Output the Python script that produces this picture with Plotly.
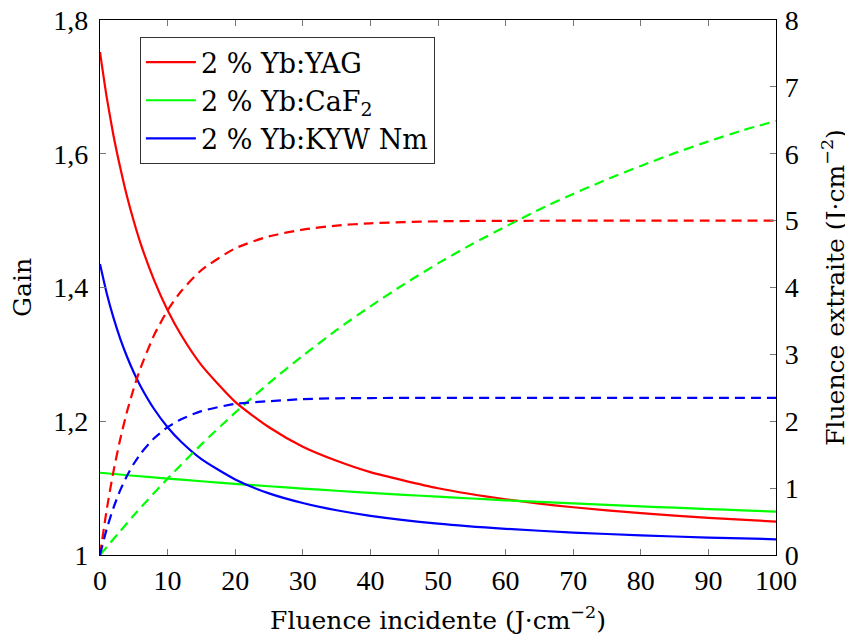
import plotly.graph_objects as go

# Fluence incidente (J/cm^2)
fluence = [0, 1, 2, 3, 4, 5, 6, 8, 10, 12, 15, 20, 25, 30, 35, 40, 50, 60, 70, 80, 90, 100]

# Gain (left axis)
gain_yag = [1.752, 1.684, 1.627, 1.579, 1.536, 1.499, 1.466, 1.411, 1.366, 1.329, 1.284, 1.229,
            1.191, 1.162, 1.141, 1.124, 1.0998, 1.0833, 1.0714, 1.0625, 1.0556, 1.050]
gain_kyw = [1.435, 1.391, 1.3545, 1.3233, 1.2964, 1.2729, 1.2524, 1.2183, 1.1911, 1.1693, 1.1434, 1.1130,
            1.0921, 1.0777, 1.0669, 1.0586, 1.0470, 1.0392, 1.0336, 1.0294, 1.0261, 1.0235]
# Extracted fluence (right axis)
ext_yag = [0, 0.684, 1.254, 1.736, 2.145, 2.495, 2.797, 3.288, 3.658, 3.944, 4.26, 4.586,
           4.765, 4.866, 4.926, 4.96, 4.99, 4.997, 4.999, 5.0, 5.0, 5.0]
ext_kyw = [0, 0.391, 0.709, 0.970, 1.186, 1.364, 1.514, 1.746, 1.911, 2.03, 2.151, 2.26,
           2.30, 2.33, 2.343, 2.347, 2.35, 2.35, 2.35, 2.35, 2.35, 2.35]

fluence_caf2 = [0, 5, 10, 15, 20, 25, 30, 35, 40, 45, 50, 55, 60, 65, 70, 75, 80, 85, 90, 95, 100]
gain_caf2 = [1.123, 1.1185, 1.1143, 1.1103, 1.1064, 1.1028, 1.0994, 1.0961, 1.0930, 1.0900, 1.0872,
             1.0845, 1.0818, 1.0795, 1.0771, 1.0749, 1.0727, 1.0707, 1.0687, 1.0668, 1.0649]
ext_caf2 = [0, 0.593, 1.143, 1.654, 2.129, 2.570, 2.98, 3.365, 3.719, 4.05, 4.36, 4.647,
            4.91, 5.168, 5.40, 5.616, 5.818, 6.009, 6.185, 6.348, 6.49]

names = ["2 % Yb:YAG", "2 % Yb:CaF<sub>2</sub>", "2 % Yb:KYW Nm"]
colors = ["#ff0000", "#00ff00", "#0000ff"]

left_ticks = [1, 1.2, 1.4, 1.6, 1.8]
left_ticktext = ["1", "1,2", "1,4", "1,6", "1,8"]
right_ticks = [0, 1, 2, 3, 4, 5, 6, 7, 8]
x_ticks = [0, 10, 20, 30, 40, 50, 60, 70, 80, 90, 100]

TICKFONT = dict(family="Liberation Serif, serif", size=28, color="black")
TEXTFONT = dict(family="DejaVu Serif, serif", size=25, color="black")
LEGENDFONT = dict(family="DejaVu Serif, serif", size=27, color="black")

fig = go.Figure()
series = [
    (fluence, gain_yag, ext_yag),
    (fluence_caf2, gain_caf2, ext_caf2),
    (fluence, gain_kyw, ext_kyw),
]
for (xs, g, e), name, col in zip(series, names, colors):
    fig.add_trace(go.Scatter(x=xs, y=g, mode="lines", name=name,
                             line=dict(color=col, width=2.2, shape="spline", smoothing=0.6),
                             yaxis="y"))
for (xs, g, e), name, col in zip(series, names, colors):
    fig.add_trace(go.Scatter(x=xs, y=e, mode="lines", name=name, showlegend=False,
                             line=dict(color=col, width=2.2, dash="10px,6px", shape="spline", smoothing=0.6),
                             yaxis="y2"))

fig.update_layout(
    width=845, height=627,
    margin=dict(l=92, r=77, t=12, b=80, autoexpand=False),
    paper_bgcolor="rgba(0,0,0,0)", plot_bgcolor="white",
    font=TEXTFONT,
    showlegend=True,
    legend=dict(x=0.059, y=0.968, xanchor="left", yanchor="top",
                bgcolor="white", bordercolor="#333", borderwidth=1,
                font=LEGENDFONT, tracegroupgap=0, itemwidth=50),
    xaxis=dict(range=[0, 100], tickvals=x_ticks, ticks="inside", ticklen=6,
               tickcolor="#777", showline=True, linecolor="black", linewidth=1.2,
               mirror="ticks", showgrid=False, zeroline=False, tickfont=TICKFONT,
               ticklabeloverflow="allow", automargin=False,
               title=dict(text="Fluence incidente (J·cm<sup>−2</sup>)", font=TEXTFONT, standoff=19)),
    yaxis=dict(range=[1, 1.8], tickvals=left_ticks, ticktext=left_ticktext,
               ticks="inside", ticklen=6, tickcolor="#777", showline=True,
               linecolor="black", linewidth=1.2, showgrid=False, zeroline=False,
               tickfont=TICKFONT, ticklabeloverflow="allow", ticklabelstandoff=5,
               automargin=False,
               title=dict(text="Gain", font=TEXTFONT, standoff=17)),
    yaxis2=dict(range=[0, 8], tickvals=right_ticks, overlaying="y", side="right",
                ticks="inside", ticklen=6, tickcolor="#777", showline=True,
                linecolor="black", linewidth=1.2, showgrid=False, zeroline=False,
                tickfont=TICKFONT, ticklabeloverflow="allow", ticklabelstandoff=2,
                automargin=False,
                title=dict(text="Fluence extraite (J·cm<sup>−2</sup>)", font=TEXTFONT, standoff=28)),
)

fig.write_html("out.html")
